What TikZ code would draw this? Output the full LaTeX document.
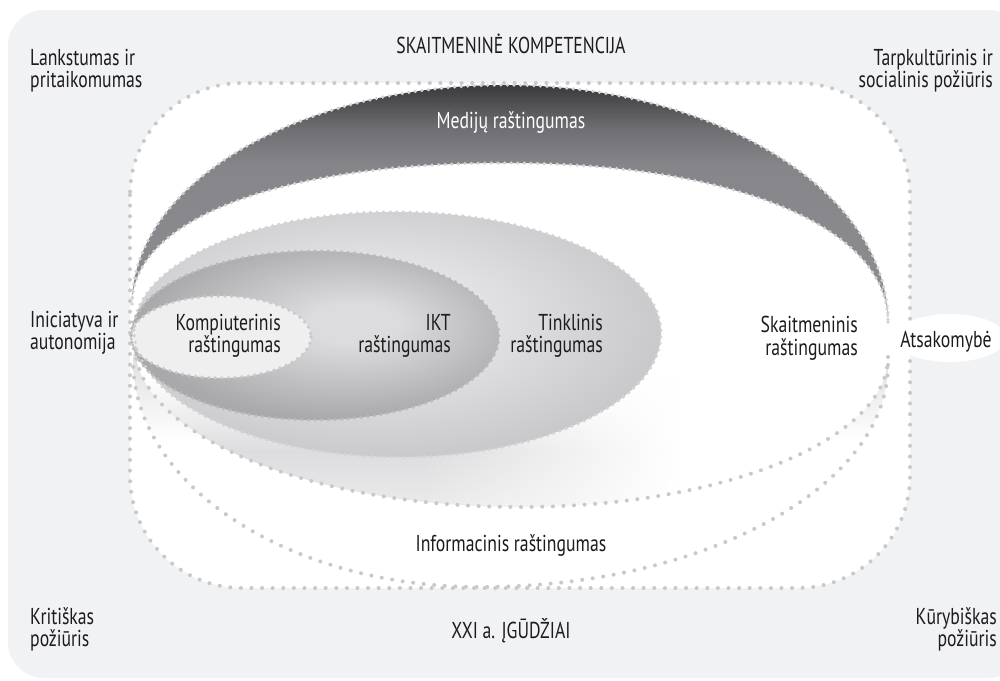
\documentclass[tikz,border=0pt]{standalone}
\usepackage{fontspec}
\setmainfont[FakeStretch=0.77]{PT Sans}
\usetikzlibrary{shapes.geometric,fadings}

\definecolor{bggray}{HTML}{F1F2F4}
\definecolor{dotgray}{HTML}{C9C9CB}
\definecolor{dotlight}{HTML}{D3D3D5}
\definecolor{inkc}{HTML}{1E1B1C}
\definecolor{medtop}{HTML}{3A3A3D}
\definecolor{medmid}{HTML}{707074}
\definecolor{medlow}{HTML}{86868A}
\definecolor{medbot}{HTML}{8E8E92}
\definecolor{sklow}{HTML}{DDDDDF}
\definecolor{infolow}{HTML}{DCDCDE}
\definecolor{iktin}{HTML}{DCDCDE}
\definecolor{iktout}{HTML}{A9A9AC}
\definecolor{tinin}{HTML}{E8E8EA}
\definecolor{tinout}{HTML}{C8C8CA}
\definecolor{kompfill}{HTML}{EFEFF0}

% vertical band shadings (path box maps to 25bp..75bp, bottom to top)
\pgfdeclareverticalshading{medsh}{100bp}{color(0bp)=(medbot); color(25bp)=(medbot); color(58bp)=(medlow); color(65.5bp)=(medmid); color(75bp)=(medtop); color(100bp)=(medtop)}
\pgfdeclareverticalshading{skaitsh}{100bp}{color(0bp)=(white); color(25bp)=(white!40!sklow); color(33bp)=(sklow); color(44bp)=(white); color(100bp)=(white)}
\pgfdeclareverticalshading{infosh}{100bp}{color(0bp)=(white); color(55bp)=(white); color(75bp)=(infolow); color(100bp)=(infolow)}
% the grey rim band of digital literacy dies out towards the right
\pgfdeclarehorizontalshading{skfadesh}{100bp}{color(0bp)=(pgftransparent!0); color(44bp)=(pgftransparent!0); color(61bp)=(pgftransparent!100); color(100bp)=(pgftransparent!100)}
\pgfdeclarefading{skfade}{\pgfuseshading{skfadesh}}
% off-centre radial shadings for the inner literacies
\pgfdeclareradialshading{iktsh}{\pgfpoint{6bp}{4bp}}{color(0bp)=(iktin); color(6bp)=(iktin); color(27bp)=(iktout); color(60bp)=(iktout)}
\pgfdeclareradialshading{tinsh}{\pgfpoint{-4bp}{4bp}}{color(0bp)=(tinin); color(8bp)=(tinin); color(28bp)=(tinout); color(60bp)=(tinout)}

\tikzset{
  rimdots/.style={draw=dotgray, line width=4pt, line cap=round, dash pattern=on 0pt off 10.6pt},
  finedots/.style={draw=dotlight, line width=3.6pt, line cap=round, dash pattern=on 0pt off 6.6pt},
  txt/.style={font=\fontsize{23}{22.5}\selectfont, text=inkc, inner sep=0pt},
}

\begin{document}
\begin{tikzpicture}[x=1pt,y=-1pt]
\clip (0,0) rectangle (1000,680);

% outer panel
\fill[bggray, rounded corners=36pt] (8,10) rectangle (1024,678);

% white field of the competence
\fill[white, rounded corners=112pt] (130,83) rectangle (910,588);

% information literacy crescent (grey near its horns, fading downwards)
\shade[shading=infosh] (135,345) .. controls (135,434) and (308,507) .. (520,507)
  .. controls (722,507) and (888,440) .. (888,357) -- (888,365)
  .. controls (888,487) and (704,587) .. (480,587)
  .. controls (289,587) and (133,485) .. (133,360) -- cycle;

% digital literacy: white, with a soft grey band under the inner ovals
\shade[shading=skaitsh, path fading=skfade] (132,304) .. controls (132,219) and (281,163) .. (505,163)
  .. controls (735,163) and (888,227) .. (888,322) -- (888,357)
  .. controls (888,440) and (722,507) .. (520,507)
  .. controls (308,507) and (135,434) .. (135,345) -- cycle;

% media literacy crescent
\shade[shading=medsh] (132,304) .. controls (132,183) and (300,85) .. (505,85)
  .. controls (716,85) and (888,192) .. (888,322)
  .. controls (888,227) and (735,163) .. (505,163)
  .. controls (281,163) and (132,219) .. (132,304) -- cycle;

% network literacy
\shade[shading=tinsh] (134,330) .. controls (134,265) and (251,212) .. (395,212)
  .. controls (541,212) and (661,266) .. (661,333)
  .. controls (661,401) and (544,457) .. (400,457)
  .. controls (254,457) and (134,400) .. (134,330) -- cycle;

% ICT literacy
\shade[shading=iktsh] (131,335) .. controls (131,289) and (214,251) .. (315,251)
  .. controls (417,251) and (499,291) .. (499,336)
  .. controls (499,382) and (417,420) .. (315,420)
  .. controls (214,420) and (131,382) .. (131,335) -- cycle;

% computer literacy
\fill[kompfill] (221,337) ellipse [x radius=90, y radius=41];

% dotted rims
\draw[rimdots, rounded corners=112pt] (130,83) rectangle (910,588);
\draw[rimdots] (888,357) .. controls (888,440) and (722,507) .. (520,507)
  .. controls (308,507) and (135,434) .. (135,345);
\draw[rimdots] (888,365) .. controls (888,487) and (704,587) .. (480,587)
  .. controls (289,587) and (133,485) .. (133,360);
\draw[finedots] (132,304) .. controls (132,183) and (300,85) .. (505,85)
  .. controls (716,85) and (888,192) .. (888,322);
\draw[finedots] (888,322) .. controls (888,227) and (735,163) .. (505,163)
  .. controls (281,163) and (132,219) .. (132,304);
\draw[finedots] (134,330) .. controls (134,265) and (251,212) .. (395,212)
  .. controls (541,212) and (661,266) .. (661,333)
  .. controls (661,401) and (544,457) .. (400,457)
  .. controls (254,457) and (134,400) .. (134,330) -- cycle;
\draw[finedots, draw=iktout!80!white] (131,335) .. controls (131,289) and (214,251) .. (315,251)
  .. controls (417,251) and (499,291) .. (499,336)
  .. controls (499,382) and (417,420) .. (315,420)
  .. controls (214,420) and (131,382) .. (131,335) -- cycle;
\draw[finedots, draw=dotgray] (221,337) ellipse [x radius=90, y radius=41];

% responsibility badge on the right rim
\node[ellipse, fill=white, minimum width=112pt, minimum height=48pt, inner sep=0pt] (atsbg) at (950,338) {};

% labels
\node[txt, anchor=base] (title) at (511,53) {SKAITMENINĖ KOMPETENCIJA};
\node[txt, anchor=base] (xxi) at (511,638) {XXI a. ĮGŪDŽIAI};
\node[txt, anchor=north west, align=left] (lank) at (30,49) {Lankstumas ir\\pritaikomumas};
\node[txt, anchor=north east, align=right] (tarp) at (993,49) {Tarpkultūrinis ir\\socialinis požiūris};
\node[txt, anchor=north west, align=left] (inic) at (30,311) {Iniciatyva ir\\autonomija};
\node[txt, anchor=north west, align=left] (krit) at (30,607) {Kritiškas\\požiūris};
\node[txt, anchor=north east, align=right] (kury) at (997,607) {Kūrybiškas\\požiūris};
\node[txt, anchor=base, text=white] (medi) at (511,128) {Medijų raštingumas};
\node[txt, anchor=north east, align=right] (komp) at (281,314) {Kompiuterinis\\raštingumas};
\node[txt, anchor=north east, align=right] (ikt) at (451,314) {IKT\\raštingumas};
\node[txt, anchor=north east, align=right] (tink) at (603,314) {Tinklinis\\raštingumas};
\node[txt, anchor=north east, align=right] (skait) at (858,316) {Skaitmeninis\\raštingumas};
\node[txt, anchor=base] (info) at (511,551) {Informacinis raštingumas};
\node[txt, anchor=base] (ats) at (946,347) {Atsakomybė};
\end{tikzpicture}
\end{document}
